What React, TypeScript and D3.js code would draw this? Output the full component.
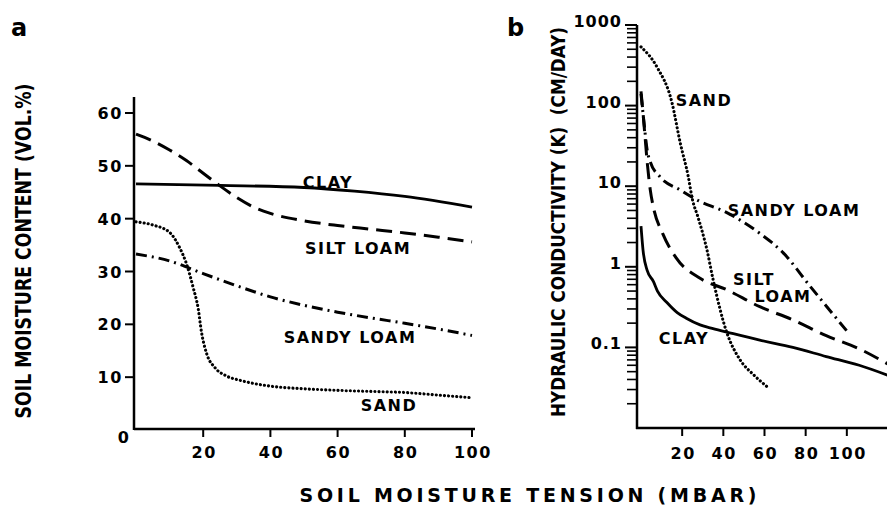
import React from "react";
import * as d3 from "d3";

type Pt = [number, number];

// Panel a: soil moisture content (vol.%) vs tension (mbar)
const clayA: Pt[] = [[0, 46.6], [25, 46.3], [50, 45.9], [65, 45.2], [80, 44.2], [100, 42.2]];
const siltLoamA: Pt[] = [[0, 56], [5, 54.7], [10, 53], [15, 51], [20, 48.6], [25, 46.2], [30, 44], [35, 42.2], [40, 41], [50, 39.6], [60, 38.7], [70, 38], [80, 37.3], [90, 36.5], [100, 35.6]];
const sandyLoamA: Pt[] = [[0, 33.3], [10, 32], [20, 29.6], [30, 27.3], [40, 25.2], [50, 23.6], [60, 22.3], [70, 21.2], [80, 20.2], [90, 19.1], [100, 17.9]];
const sandA: Pt[] = [[0, 39.4], [5, 38.8], [10, 37.4], [13, 34.5], [15, 31.5], [17, 27], [18.5, 23], [19.5, 18.5], [21, 14.5], [23.5, 11.8], [27, 10.2], [31, 9.4], [40, 8.3], [50, 7.8], [60, 7.5], [70, 7.3], [80, 7.1], [90, 6.6], [100, 6.1]];

// Panel b: hydraulic conductivity (cm/day) vs tension (mbar)
const clayB: Pt[] = [[0, 3.2], [1, 1.6], [3, 0.9], [6, 0.66], [8, 0.5], [12.6, 0.36], [17.6, 0.27], [22, 0.23], [28.7, 0.19], [33.5, 0.175], [41.7, 0.155], [57.7, 0.123], [73.8, 0.1], [90, 0.077], [106, 0.06], [120, 0.045]];
const siltLoamB: Pt[] = [[0, 150], [1, 80], [2, 40], [3, 20], [4.5, 9], [6, 5.5], [10.5, 2.6], [17, 1.3], [28.7, 0.72], [41.6, 0.52], [57.7, 0.32], [73.8, 0.22], [90, 0.14], [106, 0.096], [120, 0.062]];
const sandyLoamB: Pt[] = [[0, 140], [1.5, 60], [3, 28], [4.5, 20], [9.3, 13], [19, 9], [27, 6.8], [41.7, 4.7], [57.7, 2.6], [69, 1.5], [82, 0.58], [100, 0.16]];
const sandB: Pt[] = [[0, 535], [7.8, 300], [15, 110], [19, 35], [23, 13], [25, 6.8], [27.6, 4.2], [32, 1.64], [35, 0.7], [41.6, 0.155], [48, 0.071], [55, 0.045], [61.6, 0.032]];

const xTicksA = [20, 40, 60, 80, 100];
const yTicksA = [10, 20, 30, 40, 50, 60];
const xTicksB = [20, 40, 60, 80, 100];
const yMajorB = [1000, 100, 10, 1, 0.1];
const yMajorLabelsB = ["1000", "100", "10", "1", "0.1"];

const FONT = "'DejaVu Sans', 'Liberation Sans', Arial, sans-serif";

export default function App() {
  const xA = d3.scaleLinear().domain([0, 100]).range([136, 472]);
  const yA = d3.scaleLinear().domain([0, 60]).range([430, 113]);
  const xB = d3.scaleLinear().domain([0, 120]).range([641, 888]);
  const yB = d3.scaleLog().domain([0.01, 1000]).range([428, 25]);

  const lineA = d3.line<Pt>().x((d) => xA(d[0])).y((d) => yA(d[1])).curve(d3.curveMonotoneX);
  const lineB = d3.line<Pt>().x((d) => xB(d[0])).y((d) => yB(d[1])).curve(d3.curveMonotoneX);

  const minorB: number[] = [];
  for (let e = -2; e < 3; e++) {
    for (let m = 2; m <= 9; m++) minorB.push(m * Math.pow(10, e));
  }

  const styles = {
    solid: { stroke: "#000", strokeWidth: 2.8, fill: "none" },
    dashed: { stroke: "#000", strokeWidth: 3, fill: "none", strokeDasharray: "16 8" },
    dashdot: { stroke: "#000", strokeWidth: 3, fill: "none", strokeDasharray: "11 5 2 5" },
    dotted: { stroke: "#000", strokeWidth: 3.1, fill: "none", strokeDasharray: "0.1 4", strokeLinecap: "round" as const },
  };

  const lbl = { fontFamily: FONT, fontWeight: 700, fontSize: 16, fill: "#000", letterSpacing: 1.5 };
  const tick = { fontFamily: FONT, fontWeight: 700, fontSize: 16, fill: "#000", letterSpacing: 1.6 };
  const axisStroke = { stroke: "#000", strokeWidth: 2.5 };

  return (
    <svg width={887} height={507} style={{ position: "absolute", left: 0, top: 0, background: "#fff" }}>
      <rect x={0} y={0} width={887} height={507} fill="#fff" />
      {/* Panel letters */}
      <text x={11} y={36} style={{ fontFamily: FONT, fontWeight: 700, fontSize: 24 }}>a</text>
      <text x={507} y={36} style={{ fontFamily: FONT, fontWeight: 700, fontSize: 24 }}>b</text>

      {/* Panel a axes */}
      <line x1={134} x2={134} y1={97} y2={430} {...axisStroke} />
      <line x1={134} x2={475} y1={429} y2={429} {...axisStroke} />
      {yTicksA.map((t) => (
        <g key={"ya" + t}>
          <line x1={125} x2={134} y1={yA(t)} y2={yA(t)} stroke="#000" strokeWidth={2} />
          <text x={123} y={yA(t) + 6} textAnchor="end" style={tick}>{t}</text>
        </g>
      ))}
      <text x={124} y={443} textAnchor="middle" style={tick}>0</text>
      {xTicksA.map((t) => (
        <g key={"xa" + t}>
          <line x1={xA(t)} x2={xA(t)} y1={429} y2={437} stroke="#000" strokeWidth={2} />
          <text x={xA(t) + 1} y={458} textAnchor="middle" style={tick}>{t}</text>
        </g>
      ))}

      {/* Panel a curves */}
      <path d={lineA(clayA) || ""} {...styles.solid} />
      <path d={lineA(siltLoamA) || ""} {...styles.dashed} />
      <path d={lineA(sandyLoamA) || ""} {...styles.dashdot} />
      <path d={lineA(sandA) || ""} {...styles.dotted} />
      <text x={328} y={188} textAnchor="middle" style={lbl}>CLAY</text>
      <text x={358} y={254} textAnchor="middle" style={lbl}>SILT LOAM</text>
      <text x={350} y={343} textAnchor="middle" style={lbl}>SANDY LOAM</text>
      <text x={389} y={411} textAnchor="middle" style={lbl}>SAND</text>

      {/* Panel a y title */}
      <text
        transform="translate(31,251) rotate(-90) scale(1,1.35)"
        textAnchor="middle"
        textLength={335}
        lengthAdjust="spacingAndGlyphs"
        style={{ fontFamily: FONT, fontWeight: 700, fontSize: 15.5 }}
      >
        SOIL MOISTURE CONTENT (VOL.%)
      </text>

      {/* Panel b axes */}
      <line x1={637} x2={637} y1={25} y2={429} {...axisStroke} />
      <line x1={636} x2={887} y1={428} y2={428} {...axisStroke} />
      {minorB.map((t, i) => (
        <line key={"mb" + i} x1={627} x2={637} y1={yB(t)} y2={yB(t)} stroke="#000" strokeWidth={1.6} />
      ))}
      {yMajorB.map((t, i) => (
        <g key={"yb" + t}>
          <line x1={625} x2={637} y1={yB(t)} y2={yB(t)} stroke="#000" strokeWidth={2} />
          <text x={622} y={yB(t) + 2} textAnchor="end" style={{ ...tick, letterSpacing: 1 }}>{yMajorLabelsB[i]}</text>
        </g>
      ))}
      {xTicksB.map((t) => (
        <g key={"xb" + t}>
          <line x1={xB(t)} x2={xB(t)} y1={428} y2={436} stroke="#000" strokeWidth={2} />
          <text x={xB(t) + 1} y={459} textAnchor="middle" style={tick}>{t}</text>
        </g>
      ))}

      {/* Panel b curves */}
      <path d={lineB(clayB) || ""} {...styles.solid} />
      <path d={lineB(siltLoamB) || ""} {...styles.dashed} />
      <path d={lineB(sandyLoamB) || ""} {...styles.dashdot} />
      <path d={lineB(sandB) || ""} {...styles.dotted} />
      <text x={704} y={106} textAnchor="middle" style={lbl}>SAND</text>
      <text x={794} y={216} textAnchor="middle" style={lbl}>SANDY LOAM</text>
      <text x={754} y={285} textAnchor="middle" style={lbl}>SILT</text>
      <text x={783} y={302} textAnchor="middle" style={lbl}>LOAM</text>
      <text x={684} y={344} textAnchor="middle" style={lbl}>CLAY</text>

      {/* Panel b y title */}
      <text
        transform="translate(565,222) rotate(-90) scale(1,1.35)"
        textAnchor="middle"
        textLength={390}
        lengthAdjust="spacingAndGlyphs"
        style={{ fontFamily: FONT, fontWeight: 700, fontSize: 14.5, whiteSpace: "pre" }}
      >
        HYDRAULIC CONDUCTIVITY (K)  (CM/DAY)
      </text>

      {/* Shared x title */}
      <text
        x={528}
        y={502}
        textAnchor="middle"
        textLength={457}
        lengthAdjust="spacing"
        style={{ fontFamily: FONT, fontWeight: 700, fontSize: 19 }}
      >
        SOIL MOISTURE TENSION (MBAR)
      </text>
    </svg>
  );
}
